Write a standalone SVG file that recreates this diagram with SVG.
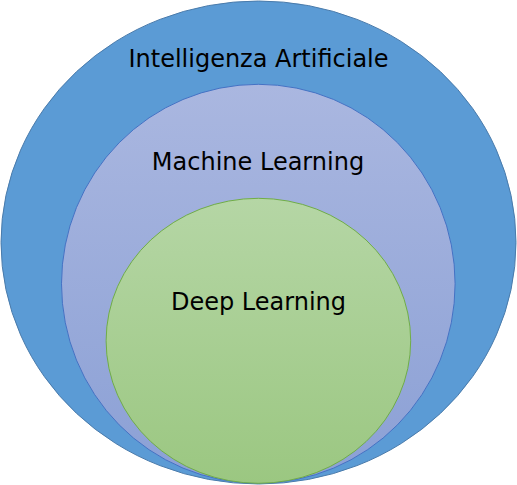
<svg xmlns="http://www.w3.org/2000/svg" width="517" height="485" viewBox="0 0 517 485">
<defs>
<linearGradient id="gML" x1="0" y1="0" x2="0" y2="1">
<stop offset="0" stop-color="#aab7e0"/>
<stop offset="1" stop-color="#8ba0d5"/>
</linearGradient>
<linearGradient id="gDL" x1="0" y1="0" x2="0" y2="1">
<stop offset="0" stop-color="#b5d6a5"/>
<stop offset="1" stop-color="#9bc781"/>
</linearGradient>
<style>
text{font-family:"DejaVu Sans",sans-serif;font-size:24px;fill:#000;text-anchor:middle}
</style>
</defs>
<rect width="517" height="485" fill="#fff"/>
<g id="ai">
<ellipse cx="258.5" cy="242.5" rx="257.5" ry="241.5" fill="#5b9bd5" stroke="#4a7bab" stroke-width="1"/>
<text x="258.5" y="67">Intelligenza Artificiale</text>
</g>
<g id="ml">
<ellipse cx="258.3" cy="283.8" rx="196.8" ry="199.5" fill="url(#gML)" stroke="#4472c4" stroke-width="1"/>
<text x="258" y="170">Machine Learning</text>
</g>
<g id="dl">
<ellipse cx="258.4" cy="340.8" rx="152.3" ry="142.5" fill="url(#gDL)" stroke="#70ad47" stroke-width="1"/>
<text x="258.5" y="310">Deep Learning</text>
</g>
<g id="connectors"/>
</svg>
